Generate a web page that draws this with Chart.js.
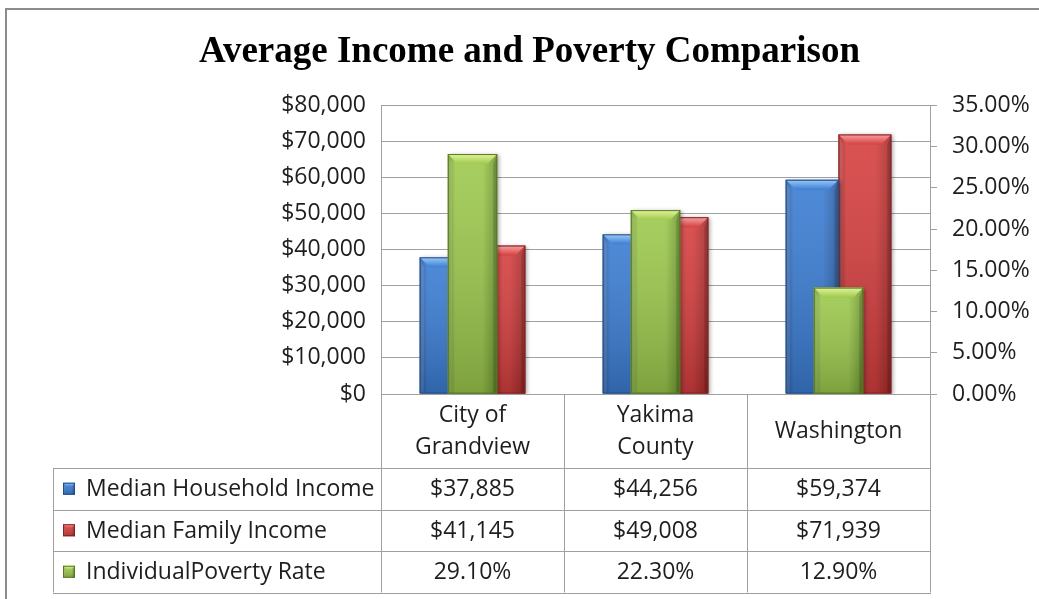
<!DOCTYPE html>
<html>
<head>
<meta charset="utf-8">
<script src="https://cdn.jsdelivr.net/npm/chart.js@4.4.0/dist/chart.umd.min.js"></script>
<style>
  html, body { margin: 0; padding: 0; background: #fff; overflow: hidden; }
  #frame { position: absolute; left: 5px; top: 8px; width: 1100px; height: 700px; border: 2px solid #8c8c8c; box-sizing: border-box; }
  #wrap { position: absolute; left: 0; top: 0; width: 1039px; height: 599px; }
</style>
</head>
<body>
<div id="frame"></div>
<div id="wrap"><canvas id="chart"></canvas></div>
<script>
// chart values
const categories = [['City of', 'Grandview'], ['Yakima', 'County'], 'Washington'];
const seriesNames = ['Median Household Income', 'Median Family Income', 'IndividualPoverty Rate'];
const householdIncome = [37885, 44256, 59374];
const familyIncome = [41145, 49008, 71939];
const povertyRate = [29.10, 22.30, 12.90];

const incomeMax = 80000, incomeStep = 10000;
const rateMax = 35, rateStep = 5;

const palettes = [
  { base: '#3b7dd3', light: '#9ccaf7', dark: '#2a5a9e', edge: '#234d88' },
  { base: '#d63f3f', light: '#f7a3a3', dark: '#a42b2b', edge: '#852222' },
  { base: '#9dc94d', light: '#e2f59a', dark: '#6f9731', edge: '#577821' }
];

const FONT = '"Open Sans", sans-serif';
const TEXT = '#1e1e1e';
const LINE = '#a0a0a0';

const money = v => '$' + Math.round(v).toLocaleString('en-US');
const pct = v => Number(v).toFixed(2) + '%';

// excel 2007 style bevel bar
function bevelBar(ctx, l, t, r, b, pal, depth, shadow) {
  const w = r - l, h = b - t;
  if (w <= 0 || h <= 0) return;
  ctx.save();
  if (shadow) {
    ctx.shadowColor = 'rgba(0,0,0,0.35)';
    ctx.shadowBlur = 4;
    ctx.shadowOffsetX = 2;
    ctx.shadowOffsetY = 1;
  }
  const g = ctx.createLinearGradient(l, 0, r, 0);
  g.addColorStop(0, pal.dark);
  g.addColorStop(0.15, pal.base);
  g.addColorStop(0.7, pal.base);
  g.addColorStop(1, pal.dark);
  ctx.fillStyle = g;
  ctx.fillRect(l, t, w, h);
  ctx.restore();

  ctx.save();
  const v = ctx.createLinearGradient(0, t, 0, b);
  v.addColorStop(0, 'rgba(255,255,255,0.10)');
  v.addColorStop(1, 'rgba(0,0,0,0.20)');
  ctx.fillStyle = v;
  ctx.fillRect(l, t, w, h);

  const d = Math.min(depth, w / 3, h / 2);
  ctx.beginPath();
  ctx.moveTo(l, t); ctx.lineTo(r, t); ctx.lineTo(r - d, t + d); ctx.lineTo(l + d, t + d);
  ctx.closePath();
  const tg = ctx.createLinearGradient(0, t, 0, t + d);
  tg.addColorStop(0, pal.light);
  tg.addColorStop(1, pal.base);
  ctx.fillStyle = tg;
  ctx.fill();

  // thin side facets
  ctx.fillStyle = 'rgba(255,255,255,0.12)';
  ctx.beginPath();
  ctx.moveTo(l, t); ctx.lineTo(l + d * 0.4, t + d); ctx.lineTo(l + d * 0.4, b); ctx.lineTo(l, b);
  ctx.closePath(); ctx.fill();
  ctx.fillStyle = 'rgba(0,0,0,0.15)';
  ctx.beginPath();
  ctx.moveTo(r, t); ctx.lineTo(r - d * 0.4, t + d); ctx.lineTo(r - d * 0.4, b); ctx.lineTo(r, b);
  ctx.closePath(); ctx.fill();

  ctx.strokeStyle = pal.edge;
  ctx.lineWidth = 1;
  ctx.strokeRect(l + 0.5, t + 0.5, w - 1, h - 1);
  ctx.restore();
}

const bevelPlugin = {
  id: 'bevel',
  afterDatasetDraw(chart, args) {
    const ctx = chart.ctx;
    const area = chart.chartArea;
    const pal = palettes[args.index];
    ctx.save();
    ctx.beginPath();
    ctx.rect(area.left, area.top - 20, area.right - area.left, area.bottom - area.top + 20);
    ctx.clip();
    args.meta.data.forEach(bar => {
      const p = bar.getProps(['x', 'y', 'base', 'width'], true);
      bevelBar(ctx, p.x - p.width / 2, p.y, p.x + p.width / 2, p.base, pal, 10, true);
    });
    ctx.restore();
  }
};

// data table under the plot, columns follow the category scale
const tablePlugin = {
  id: 'dataTable',
  afterDraw(chart, args, opts) {
    const { ctx, chartArea: area } = chart;
    const x = chart.scales.x;
    const n = categories.length;
    const half = (x.getPixelForValue(1) - x.getPixelForValue(0)) / 2;
    const edges = [];
    for (let i = 0; i < n; i++) edges.push(x.getPixelForValue(i) - half);
    edges.push(x.getPixelForValue(n - 1) + half);

    const rows = [householdIncome, familyIncome, povertyRate];
    const headerBottom = area.bottom + opts.headerHeight;
    const tableBottom = headerBottom + rows.length * opts.rowHeight;

    ctx.save();
    ctx.strokeStyle = LINE;
    ctx.lineWidth = 1;
    ctx.beginPath();
    edges.forEach(e => {
      const ex = Math.round(e) + 0.5;
      ctx.moveTo(ex, area.bottom);
      ctx.lineTo(ex, tableBottom);
    });
    const lx = opts.left + 0.5;
    ctx.moveTo(lx, headerBottom);
    ctx.lineTo(lx, tableBottom);
    for (let r = 0; r <= rows.length; r++) {
      const ry = Math.round(headerBottom + r * opts.rowHeight) + 0.5;
      ctx.moveTo(opts.left, ry);
      ctx.lineTo(Math.round(edges[n]) + 1, ry);
    }
    ctx.stroke();

    ctx.font = opts.fontSize + 'px ' + FONT;
    ctx.fillStyle = TEXT;
    ctx.textBaseline = 'middle';
    rows.forEach((vals, r) => {
      const cy = headerBottom + r * opts.rowHeight + opts.rowHeight / 2;
      bevelBar(ctx, opts.left + 10, cy - 6, opts.left + 22, cy + 6, palettes[r], 4, false);
      ctx.fillStyle = TEXT;
      ctx.textAlign = 'left';
      ctx.fillText(seriesNames[r], opts.left + 33, cy + 1);
      ctx.textAlign = 'center';
      vals.forEach((v, i) => {
        ctx.fillText(r === 2 ? pct(v) : money(v), x.getPixelForValue(i), cy + 1);
      });
    });
    ctx.restore();
  }
};

const tickFont = { family: FONT, size: 23 };

new Chart(document.getElementById('chart'), {
  type: 'bar',
  data: {
    labels: categories,
    datasets: [
      { label: seriesNames[0], data: householdIncome, yAxisID: 'y', backgroundColor: palettes[0].base,
        categoryPercentage: 0.577, barPercentage: 1, order: 1 },
      { label: seriesNames[1], data: familyIncome, yAxisID: 'y', backgroundColor: palettes[1].base,
        categoryPercentage: 0.577, barPercentage: 1, order: 1 },
      { label: seriesNames[2], data: povertyRate, yAxisID: 'y2', backgroundColor: palettes[2].base,
        grouped: false, categoryPercentage: 0.27, barPercentage: 1, order: 0 }
    ]
  },
  options: {
    responsive: true,
    maintainAspectRatio: false,
    animation: false,
    layout: { padding: { left: 20, right: 0, top: 0, bottom: 0 } },
    plugins: {
      legend: { display: false },
      tooltip: { enabled: false },
      title: {
        display: true,
        text: 'Average Income and Poverty Comparison',
        color: '#000',
        font: { family: '"Liberation Serif", "Times New Roman", serif', size: 37, weight: 'bold' },
        padding: { top: 30, bottom: 31 }
      },
      dataTable: { left: 53, headerHeight: 74, rowHeight: 41.5, fontSize: 23 }
    },
    scales: {
      x: {
        grid: { display: false, drawTicks: false },
        border: { display: false },
        ticks: { font: { family: FONT, size: 23, lineHeight: 1.39 }, color: TEXT, padding: 21,
                 crossAlign: 'center', maxRotation: 0, autoSkip: false },
        afterFit: s => { s.height = 205; }
      },
      y: {
        position: 'left',
        min: 0, max: incomeMax,
        grid: { color: LINE, drawTicks: false },
        border: { color: LINE },
        ticks: { stepSize: incomeStep, callback: v => money(v), font: tickFont, color: TEXT, padding: 15 },
        afterFit: s => { s.width = 361; }
      },
      y2: {
        position: 'right',
        min: 0, max: rateMax,
        grid: { drawOnChartArea: false, drawTicks: true, tickLength: 7, color: LINE },
        border: { color: LINE },
        ticks: { stepSize: rateStep, callback: v => pct(v), font: tickFont, color: TEXT, padding: 15 },
        afterFit: s => { s.width = 109; }
      }
    }
  },
  plugins: [bevelPlugin, tablePlugin]
});
</script>
</body>
</html>
